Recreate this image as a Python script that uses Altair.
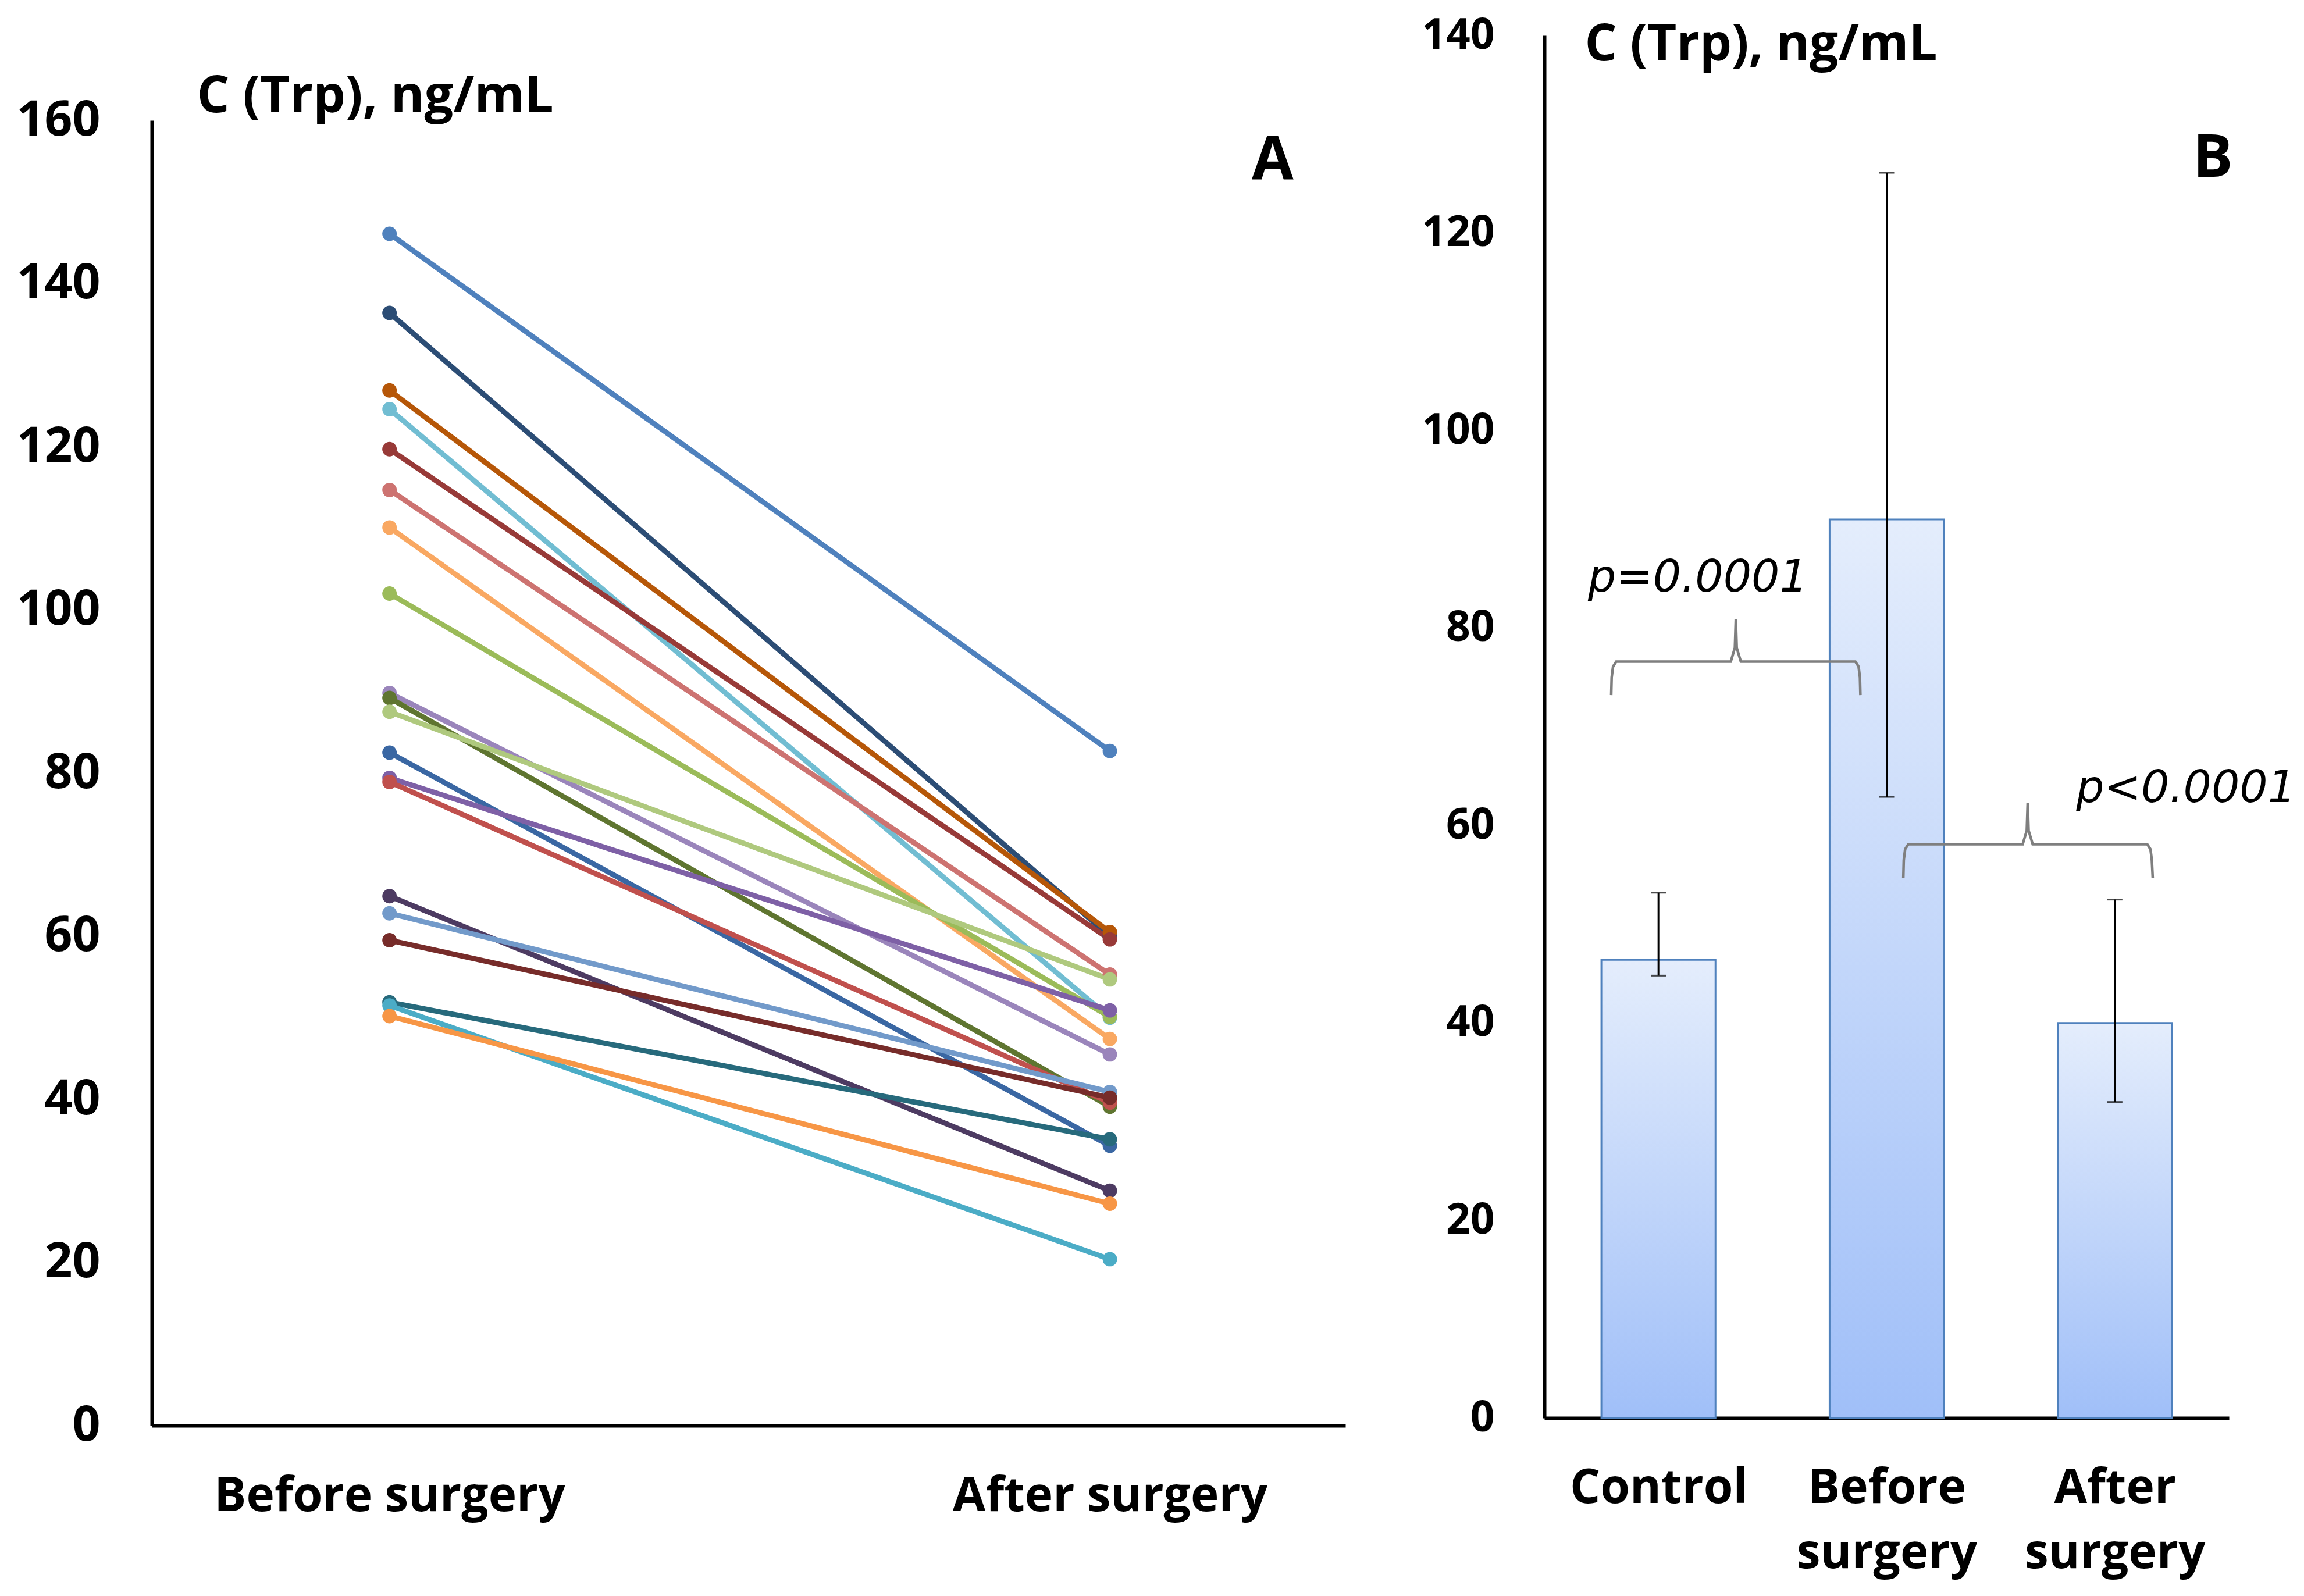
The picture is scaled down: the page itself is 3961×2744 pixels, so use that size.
import altair as alt
import pandas as pd

# ---------------- Panel A data ----------------
A_GROUPS = ["Before surgery", "After surgery"]
A_BEFORE = [146.1, 136.4, 126.9, 124.6, 119.7, 114.7, 110.1, 102.0, 89.8, 89.2,
            87.5, 82.5, 79.4, 78.9, 64.9, 62.8, 59.5, 51.9, 51.5, 50.2]
A_AFTER = [82.7, 60.0, 60.5, 50.0, 59.6, 55.3, 47.4, 50.1, 45.5, 39.1,
           54.7, 34.3, 50.9, 39.6, 28.8, 40.9, 40.2, 35.1, 20.4, 27.2]
A_COLORS = ["#4F81BD", "#2C4D75", "#B65708", "#71BDD2", "#983A38", "#CD7371",
            "#F9A862", "#9BBB59", "#9A85BB", "#5F7530", "#AFC97E", "#3A67A3",
            "#7E60A6", "#C0504D", "#4D3B62", "#729ACA", "#772C2A", "#276A7C",
            "#4BACC6", "#F79646"]
A_YTICKS = [0, 20, 40, 60, 80, 100, 120, 140, 160]

# ---------------- Panel B data ----------------
B_GROUPS = ["Control", "Before surgery", "After surgery"]
B_MEAN = [46.4, 91.0, 40.0]
B_LOW = [44.8, 62.9, 32.0]
B_HIGH = [53.2, 126.1, 52.5]
B_YTICKS = [0, 20, 40, 60, 80, 100, 120, 140]

P_LABELS = ["p=0.0001", "p<0.0001"]
P_X = [-0.309, 1.83]
P_Y = [83.7, 62.4]

# curly braces (x in category units, y in ng/mL)
BRACE1_X = [-0.207, -0.205, -0.199, -0.185, 0.317, 0.335, 0.339, 0.343, 0.361, 0.863, 0.877, 0.883, 0.885]
BRACE1_Y = [73.2, 75.0, 76.1, 76.6, 76.6, 78.0, 80.9, 78.0, 76.6, 76.6, 76.1, 75.0, 73.2]
BRACE2_X = [1.073, 1.075, 1.081, 1.095, 1.596, 1.614, 1.618, 1.622, 1.640, 2.142, 2.156, 2.162, 2.166]
BRACE2_Y = [54.7, 56.5, 57.6, 58.1, 58.1, 59.5, 62.3, 59.5, 58.1, 58.1, 57.6, 56.5, 54.7]

PANEL_LABELS = ["A", "B"]

FONT = "Open Sans"

# ---------------- build tables ----------------
ids = [f"s{i+1:02d}" for i in range(len(A_BEFORE))]
rows = []
for sid, b, a in zip(ids, A_BEFORE, A_AFTER):
    rows.append({"series": sid, "pos": 0, "value": b})
    rows.append({"series": sid, "pos": 1, "value": a})
dfA = pd.DataFrame(rows)

dfB = pd.DataFrame({"pos": list(range(len(B_GROUPS))), "group": B_GROUPS,
                    "mean": B_MEAN, "low": B_LOW, "high": B_HIGH})
dfP = pd.DataFrame({"x": P_X, "y": P_Y, "label": P_LABELS})
braces = []
for k, (bx, by) in enumerate([(BRACE1_X, BRACE1_Y), (BRACE2_X, BRACE2_Y)]):
    for j, (x, y) in enumerate(zip(bx, by)):
        braces.append({"brace": k, "order": j, "x": x, "y": y})
dfBr = pd.DataFrame(braces)

a_labels = "[" + ",".join(f"'{g}'" for g in A_GROUPS) + "]"
b_labels = "[" + ",".join(f"'{g}'" for g in B_GROUPS) + "]"

common_axis = dict(domainColor="black", domainWidth=6, ticks=False, tickSize=0,
                   grid=False, labelFont=FONT, labelFontWeight="bold",
                   labelColor="black", labelFlush=False, labelOverlap=False,
                   labelLimit=2000)

# ---------------- Panel A ----------------
xA = alt.X("pos:Q", scale=alt.Scale(domain=[-0.330, 1.327], nice=False, zero=False),
           axis=alt.Axis(values=[0, 1], labelExpr=f"{a_labels}[datum.value]", title=None,
                         labelFontSize=82, labelPadding=81, labelAngle=0, **common_axis))
yA = alt.Y("value:Q", scale=alt.Scale(domain=[0, 160], range=[2390, 146], nice=False),
           axis=alt.Axis(values=A_YTICKS, title="C (Trp), ng/mL", titleAngle=0,
                         titleX=77, titleY=131, titleAlign="left", titleBaseline="alphabetic",
                         titleFont=FONT, titleFontWeight="bold", titleFontSize=88,
                         titleColor="black", labelFontSize=84, labelPadding=89,
                         **common_axis))
colA = alt.Color("series:N", scale=alt.Scale(domain=ids, range=A_COLORS), legend=None)

linesA = alt.Chart(dfA).mark_line(strokeWidth=9).encode(x=xA, y=yA, color=colA)
pointsA = alt.Chart(dfA).mark_circle(size=620, opacity=1).encode(x=xA, y=yA, color=colA)
labelA = alt.Chart(pd.DataFrame({"x": [1.226], "y": [152.7], "t": [PANEL_LABELS[0]]})).mark_text(
    font=FONT, fontWeight="bold", fontSize=104, align="center", baseline="alphabetic", color="black"
).encode(x="x:Q", y="y:Q", text="t:N")

panelA = alt.layer(linesA, pointsA, labelA).properties(width=2052, height=2390)

# ---------------- Panel B ----------------
xB_scale = alt.Scale(domain=[-0.5, 2.5], nice=False, zero=False)
yB_scale = alt.Scale(domain=[0, 140], nice=False)
xB_axis = alt.Axis(values=[0, 1, 2], labelExpr=f"split({b_labels}[datum.value], ' ')",
                   title=None, labelFontSize=82, labelPadding=80, labelLineHeight=112,
                   labelAngle=0, **common_axis)
yB_axis = alt.Axis(values=B_YTICKS, title="C (Trp), ng/mL", titleAngle=0,
                   titleX=69, titleY=42, titleAlign="left", titleBaseline="alphabetic",
                   titleFont=FONT, titleFontWeight="bold", titleFontSize=87,
                   titleColor="black", labelFontSize=73, labelPadding=86, **common_axis)

gradient = alt.Gradient(gradient="linear",
                        stops=[alt.GradientStop(color="#E4EDFC", offset=0),
                               alt.GradientStop(color="#A0BFF8", offset=1)],
                        x1=0, x2=0, y1=0, y2=1)

bars = alt.Chart(dfB).transform_calculate(
    x0="datum.pos - 0.25", x1="datum.pos + 0.25"
).mark_bar(fill=gradient, stroke="#4F81BD", strokeWidth=3).encode(
    x=alt.X("x0:Q", scale=xB_scale, axis=xB_axis), x2="x1:Q",
    y=alt.Y("mean:Q", scale=yB_scale, axis=yB_axis), y2=alt.datum(0))
err = alt.Chart(dfB).mark_rule(color="black", strokeWidth=3).encode(
    x="pos:Q", y="low:Q", y2="high:Q")
capLow = alt.Chart(dfB).mark_tick(orient="horizontal", size=26, thickness=3, color="black").encode(
    x="pos:Q", y="low:Q")
capHigh = alt.Chart(dfB).mark_tick(orient="horizontal", size=26, thickness=3, color="black").encode(
    x="pos:Q", y="high:Q")
braceLines = alt.Chart(dfBr).mark_line(color="#7F7F7F", strokeWidth=4.5).encode(
    x="x:Q", y="y:Q", detail="brace:N", order="order:Q")
pText = alt.Chart(dfP).mark_text(font="DejaVu Sans", fontStyle="italic", fontSize=76, align="left",
                                 baseline="alphabetic", color="black").encode(
    x="x:Q", y="y:Q", text="label:N")
labelB = alt.Chart(pd.DataFrame({"x": [2.429], "y": [125.7], "t": [PANEL_LABELS[1]]})).mark_text(
    font=FONT, fontWeight="bold", fontSize=102, align="center", baseline="alphabetic", color="black"
).encode(x="x:Q", y="y:Q", text="t:N")

panelB = alt.layer(bars, err, capLow, capHigh, braceLines, pText, labelB).properties(
    width=1177, height=2377)

chart = alt.hconcat(panelA, panelB, spacing=130).properties(
    padding={"left": 19, "top": 17, "right": 5, "bottom": 5},
    background="white"
).configure_view(stroke=None)

chart.save("out.html", embed_options={"renderer": "svg", "actions": False})
